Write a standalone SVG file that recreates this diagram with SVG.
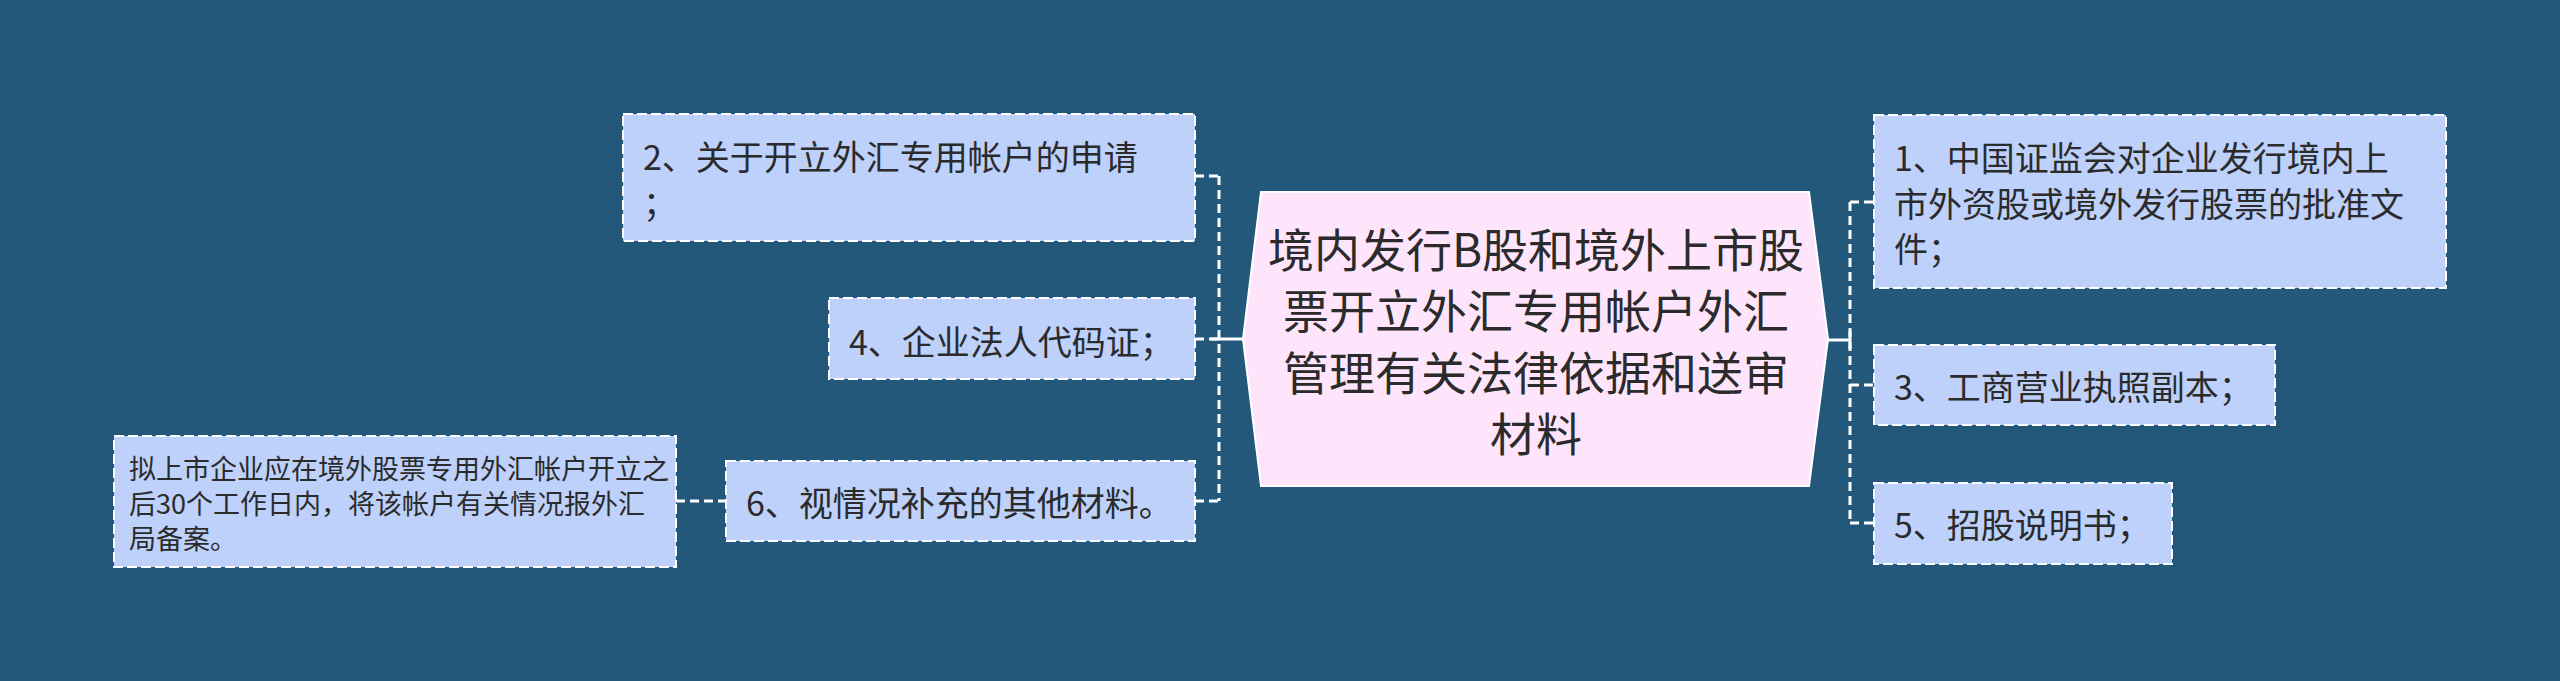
<svg xmlns="http://www.w3.org/2000/svg" width="2560" height="681" viewBox="0 0 2560 681">
<style>
text{font-family:"Noto Sans CJK SC","Noto Sans",sans-serif;fill:#2b2b2b;dominant-baseline:central}
.box{fill:#bdd1fb;stroke:#ffffff;stroke-width:2;stroke-dasharray:10,4}
.t{font-size:34px}
.s{font-size:27px}
.c{font-size:46px;text-anchor:middle}
.dash{fill:none;stroke:#ffffff;stroke-width:3;stroke-dasharray:9,5}
.solid{fill:none;stroke:#ffffff;stroke-width:3}
</style>
<rect width="2560" height="681" fill="#23587b"/>
<g id="connectors">
<path class="dash" d="M1219,176 V501"/>
<path class="dash" d="M1195,176 H1219"/>
<path class="dash" d="M1195,339 H1219"/>
<path class="dash" d="M1195,501 H1219"/>
<path class="solid" d="M1210,339 H1243"/>
<path class="dash" d="M1850,202 V523"/>
<path class="dash" d="M1850,202 H1874"/>
<path class="dash" d="M1850,385 H1874"/>
<path class="dash" d="M1850,523 H1874"/>
<path class="solid" d="M1828,340 H1850 M1850,331 V349"/>
<path class="dash" d="M676,501 H726"/>
</g>
<g id="center">
<polygon points="1261,192 1809,192 1828,339 1809,486 1261,486 1243,339" fill="#ffe5fb" stroke="#ffffff" stroke-width="2"/>
<text class="c" x="1536" y="247">境内发行B股和境外上市股</text>
<text class="c" x="1536" y="308">票开立外汇专用帐户外汇</text>
<text class="c" x="1536" y="370">管理有关法律依据和送审</text>
<text class="c" x="1536" y="431">材料</text>
</g>
<g id="node2">
<rect class="box" x="623" y="114" width="572" height="127"/>
<text class="t" x="643" y="155">2、关于开立外汇专用帐户的申请</text>
<text class="t" x="643" y="201">；</text>
</g>
<g id="node4">
<rect class="box" x="829" y="298" width="366" height="81"/>
<text class="t" x="849" y="340">4、企业法人代码证；</text>
</g>
<g id="node6">
<rect class="box" x="726" y="461" width="469" height="80"/>
<text class="t" x="746" y="501">6、视情况补充的其他材料。</text>
</g>
<g id="note6">
<rect class="box" x="114" y="436" width="562" height="131"/>
<text class="s" x="129" y="467">拟上市企业应在境外股票专用外汇帐户开立之</text>
<text class="s" x="129" y="502">后30个工作日内，将该帐户有关情况报外汇</text>
<text class="s" x="129" y="537">局备案。</text>
</g>
<g id="node1">
<rect class="box" x="1874" y="115" width="572" height="173"/>
<text class="t" x="1894" y="156">1、中国证监会对企业发行境内上</text>
<text class="t" x="1894" y="202">市外资股或境外发行股票的批准文</text>
<text class="t" x="1894" y="247">件；</text>
</g>
<g id="node3">
<rect class="box" x="1874" y="345" width="401" height="80"/>
<text class="t" x="1894" y="385">3、工商营业执照副本；</text>
</g>
<g id="node5">
<rect class="box" x="1874" y="483" width="298" height="81"/>
<text class="t" x="1894" y="523">5、招股说明书；</text>
</g>
</svg>
